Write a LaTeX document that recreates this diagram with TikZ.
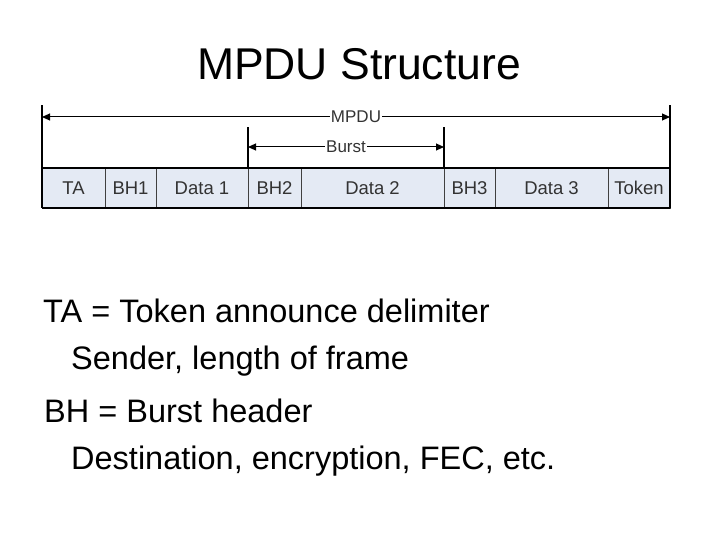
\documentclass[tikz,border=0pt]{standalone}
\usepackage{fontspec}
\setmainfont{Liberation Sans}
\usetikzlibrary{arrows.meta}
\definecolor{cellfill}{HTML}{E4EAF4}
\definecolor{celltext}{HTML}{333333}
\tikzset{
  cell/.style={draw=black!75, line width=0.9pt, fill=cellfill, inner sep=0pt, outer sep=0pt,
    minimum height=40pt, text height=13pt, text depth=0pt, text=celltext,
    font=\fontsize{18.5}{18.5}\selectfont},
  dimlabel/.style={inner sep=1pt, text=celltext, font=\fontsize{17}{17}\selectfont},
  dimline/.style={line width=1pt, -{Triangle[length=8pt,width=7pt]}},
  guide/.style={line width=1.6pt},
  body/.style={anchor=base west, inner sep=0pt, font=\fontsize{32.5}{32.5}\selectfont},
}
\begin{document}
\begin{tikzpicture}[x=1pt,y=-1pt]
\useasboundingbox (0,0) rectangle (720,540);
% title
\node[anchor=base, inner sep=0pt, font=\fontsize{44.5}{44.5}\selectfont] (title) at (359,80) {MPDU Structure};
% cells
\node[cell, minimum width=63pt] (ta) at (73.5,188) {TA};
\node[cell, minimum width=51pt] (bh1) at (130.5,188) {BH1};
\node[cell, minimum width=92pt] (d1) at (202,188) {Data 1};
\node[cell, minimum width=53pt] (bh2) at (274.5,188) {BH2};
\node[cell, minimum width=143pt] (d2) at (372.5,188) {Data 2};
\node[cell, minimum width=51pt] (bh3) at (469.5,188) {BH3};
\node[cell, minimum width=113pt] (d3) at (551.5,188) {Data 3};
\node[cell, minimum width=62pt] (tok) at (639,188) {Token};
% thick top and bottom borders
\draw[guide] (ta.north west) -- (tok.north east);
\draw[guide] (ta.south west) -- (tok.south east);
% guide verticals
\coordinate (mL) at (42,117);
\coordinate (mR) at (670,117);
\coordinate (bL) at (248,147);
\coordinate (bR) at (444,147);
\draw[guide] (ta.south west) -- ++(0,-103);
\draw[guide] (tok.south east) -- ++(0,-103);
\draw[guide] (bh2.north west) -- ++(0,-41);
\draw[guide] (bh3.north west) -- ++(0,-41);
% dimension labels
\node[dimlabel] (mpdu) at (356,117) {MPDU};
\node[dimlabel] (burst) at (346,147) {Burst};
\draw[dimline] (mpdu.west) -- (mL);
\draw[dimline] (mpdu.east) -- (mR);
\draw[dimline] (burst.west) -- (bL);
\draw[dimline] (burst.east) -- (bR);
% body text
\node[body] (l1) at (43,322) {TA = Token announce delimiter};
\node[body] (l2) at (71,369) {Sender, length of frame};
\node[body] (l3) at (44,422) {BH = Burst header};
\node[body] (l4) at (71,469) {Destination, encryption, FEC, etc.};
\end{tikzpicture}
\end{document}
